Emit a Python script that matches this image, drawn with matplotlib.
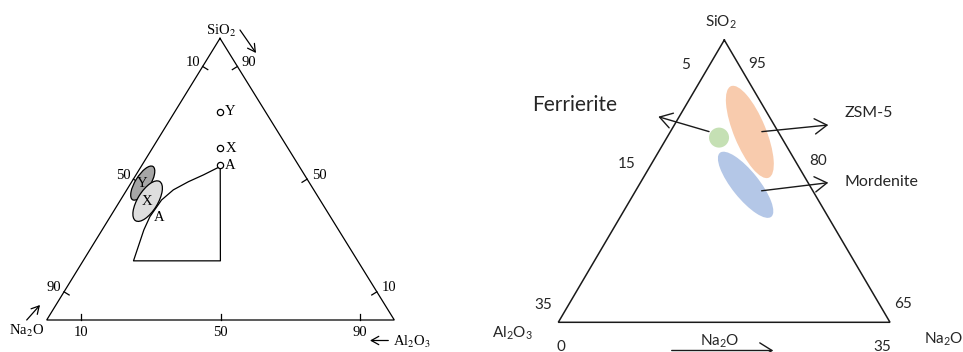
import numpy as np
import matplotlib
matplotlib.use("Agg")
import matplotlib.pyplot as plt
from matplotlib.patches import Ellipse, Circle

SERIF = ['Liberation Serif', 'DejaVu Serif']
SANS = ['Lato', 'DejaVu Sans']
plt.rcParams['mathtext.fontset'] = 'custom'
plt.rcParams['mathtext.rm'] = 'Lato'
plt.rcParams['mathtext.it'] = 'Lato:italic'
plt.rcParams['mathtext.bf'] = 'Lato:bold'

# --- left diagram: SiO2 / Na2O / Al2O3 in wt % (top, left, right corner)
pts_names = ['Y', 'X', 'A']
pts_sio2 = [74, 61, 55]
pts_na2o = [13, 19.5, 22.5]
pts_al2o3 = [13, 19.5, 22.5]

# crystallisation field outline
fld_sio2 = [54.5, 21, 21, 32, 36.7, 42.6, 46.2, 49.1, 51.5, 54.5]
fld_na2o = [22.75, 39.5, 64.5, 56, 51.9, 45.6, 40.4, 34.6, 29.1, 22.75]
fld_al2o3 = [22.75, 39.5, 14.5, 12, 11.4, 11.8, 13.4, 16.3, 19.4, 22.75]

# ellipses: name, SiO2, Na2O, Al2O3, length, width, fill
ell_names = ['Y', 'X']
ell_sio2 = [48.6, 42.2]
ell_na2o = [48.0, 49.8]
ell_al2o3 = [3.4, 8.0]
ell_len = [39, 46]
ell_wid = [15, 20]
ell_fill = ['#a6a6a6', '#dedede']

left_ticks = [10, 50, 90]

# --- right diagram: SiO2 65-100, Al2O3 0-35, Na2O 0-35
zeo_names = ['Ferrierite', 'ZSM-5', 'Mordenite']
zeo_sio2 = [87.9, 88.6, 82.0]
zeo_al2o3 = [6.6, 3.0, 6.7]
zeo_na2o = [5.5, 8.4, 11.2]

# triangle corners in figure pixels (top, left, right)
TRI_L = np.array([[220.0, 38.3], [46.7, 320.0], [394.3, 320.0]])
TRI_R = np.array([[724.3, 40.0], [558.3, 322.3], [890.0, 322.3]])


def tern(tri, top, left, right):
    w = np.array([top, left, right], dtype=float)
    w = w / w.sum(axis=0)
    return w[0] * tri[0, 0] + w[1] * tri[1, 0] + w[2] * tri[2, 0], \
        w[0] * tri[0, 1] + w[1] * tri[1, 1] + w[2] * tri[2, 1]


def stext(x, y, s, **kw):
    # serif labels, subscripts set in STIX
    ax.text(x, y, s, family=SERIF, fontsize=10.5, math_fontfamily='stix', **kw)


fig = plt.figure(figsize=(9.63, 3.52), dpi=100)
ax = fig.add_axes([0, 0, 1, 1])
ax.set_xlim(0, 963)
ax.set_ylim(352, 0)
ax.axis('off')

# ---------------- left ternary
tl = np.vstack([TRI_L, TRI_L[:1]])
ax.plot(tl[:, 0], tl[:, 1], color='k', lw=0.9, solid_joinstyle='miter')

top, bl, br = TRI_L
cen = TRI_L.mean(axis=0)
for side, (p0, p1) in enumerate([(top, bl), (top, br), (bl, br)]):
    d = (p1 - p0) / np.linalg.norm(p1 - p0)
    nrm = np.array([-d[1], d[0]])
    if np.dot(cen - p0, nrm) < 0:
        nrm = -nrm
    for t in left_ticks:
        p = p0 + (p1 - p0) * t / 100
        q = p + nrm * 6
        ax.plot([p[0], q[0]], [p[1], q[1]], color='k', lw=0.9)
        if side == 0:
            stext(p[0] - 2.5, p[1] - 4, str(t), ha='right', va='center')
        elif side == 1:
            stext(p[0] + 4.5, p[1] - 4, str(100 - t), ha='left', va='center')
        else:
            stext(p[0], p[1] + 13, str(t), ha='center', va='center')

stext(221, 31, r'SiO$_2$', ha='center', va='center')
stext(27, 331, r'Na$_2$O', ha='center', va='center')
stext(412, 342, r'Al$_2$O$_3$', ha='center', va='center')
arr = dict(arrowstyle='->,head_length=0.45,head_width=0.25', color='k', lw=0.9,
           shrinkA=0, shrinkB=0, mutation_scale=12)
ax.annotate('', xy=(256, 53), xytext=(240, 30), arrowprops=arr)
ax.annotate('', xy=(40, 305), xytext=(26.7, 320), arrowprops=arr)
ax.annotate('', xy=(370, 340.5), xytext=(388.3, 340.5), arrowprops=arr)

fx, fy = tern(TRI_L, fld_sio2, fld_na2o, fld_al2o3)
ax.plot(fx, fy, color='k', lw=0.9)

ang = np.degrees(np.arctan2(top[1] - bl[1], top[0] - bl[0]))
ex, ey = tern(TRI_L, ell_sio2, ell_na2o, ell_al2o3)
for i, nm in enumerate(ell_names):
    ax.add_patch(Ellipse((ex[i], ey[i]), ell_len[i], ell_wid[i], angle=ang,
                         facecolor=ell_fill[i], edgecolor='k', lw=0.9, zorder=3))
    ax.text(ex[i] - 1, ey[i], nm, ha='center', va='center', family=SERIF,
            fontsize=10.5, zorder=4)
stext(159.5, 217.7, 'A', ha='center', va='center')

px, py = tern(TRI_L, pts_sio2, pts_na2o, pts_al2o3)
ax.plot(px, py, 'o', ms=4.5, mfc='white', mec='k', mew=0.9, ls='none')
for i, nm in enumerate(pts_names):
    stext(px[i] + 5, py[i], nm, ha='left', va='center')

# ---------------- right ternary
tr = np.vstack([TRI_R, TRI_R[:1]])
ax.plot(tr[:, 0], tr[:, 1], color='#1a1a1a', lw=1.1, solid_joinstyle='miter')

zs = [(v - 65) / 35 for v in zeo_sio2]
za = [v / 35 for v in zeo_al2o3]
zn = [v / 35 for v in zeo_na2o]
zx, zy = tern(TRI_R, zs, za, zn)

ax.add_patch(Ellipse((zx[1], zy[1]), 99, 32, angle=67.6,
                     facecolor='#f8cbad', edgecolor='none', zorder=2))
ax.add_patch(Ellipse((zx[2], zy[2]), 82, 27, angle=51.3,
                     facecolor='#b4c7e7', edgecolor='none', zorder=2))
ax.add_patch(Circle((zx[0], zy[0]), 10, facecolor='#c5e0b4',
                    edgecolor='none', zorder=2))

arr2 = dict(arrowstyle='->,head_length=0.4,head_width=0.25', color='#1a1a1a',
            lw=1.0, shrinkA=0, shrinkB=0, mutation_scale=22)
ax.annotate('', xy=(658.3, 116.7), xytext=(zx[0] - 10, zy[0] - 6), arrowprops=arr2, zorder=3)
ax.annotate('', xy=(828.3, 125), xytext=(zx[1] + 12, zy[1] - 0.3), arrowprops=arr2, zorder=3)
ax.annotate('', xy=(828.3, 182.7), xytext=(zx[2] + 16, zy[2] + 6), arrowprops=arr2, zorder=3)
ax.annotate('', xy=(773.3, 350.5), xytext=(671.7, 350.5), arrowprops=arr2)

tc = '#262626'
ax.text(575, 105, zeo_names[0], ha='center', va='center', family=SANS,
        fontsize=15, color=tc)
ax.text(845, 113.3, zeo_names[1], ha='left', va='center', family=SANS,
        fontsize=11.5, color=tc)
ax.text(845, 182.3, zeo_names[2], ha='left', va='center', family=SANS,
        fontsize=11.5, color=tc)

right_lbls = [(r'SiO$_2$', 720.7, 22.5), ('5', 686, 65), ('95', 757.3, 64.3),
              ('15', 626.7, 164), ('80', 817.7, 160.7), ('35', 543.3, 305),
              ('65', 903.3, 304.3), (r'Al$_2$O$_3$', 512.3, 333), ('0', 561, 346.7),
              (r'Na$_2$O', 720, 341.5), ('35', 882.7, 346.7), (r'Na$_2$O', 944, 339)]
for s, x, y in right_lbls:
    ax.text(x, y, s, ha='center', va='center', family=SANS, fontsize=11,
            color=tc)

fig.savefig('out.png', dpi=100)
